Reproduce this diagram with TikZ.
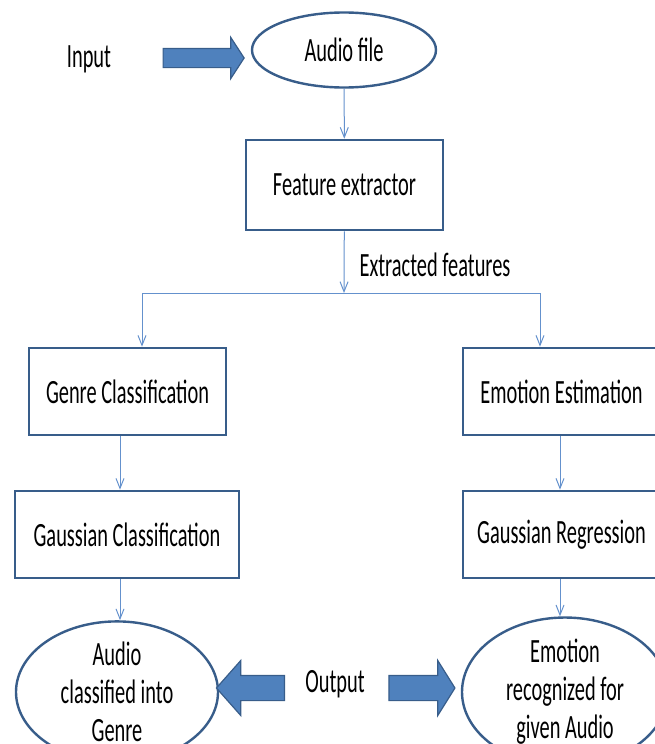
\documentclass[tikz,border=0pt]{standalone}
\usepackage{fontspec}
\setmainfont{Carlito}[FakeStretch=0.6]
\usetikzlibrary{shapes.geometric,shapes.arrows,arrows.meta}
\definecolor{boxBlue}{RGB}{56,93,138}
\definecolor{lineBlue}{RGB}{100,145,205}
\definecolor{fillBlue}{RGB}{79,129,189}
\begin{document}
\begin{tikzpicture}[x=1pt,y=-1pt]
\fontsize{34}{38}\selectfont
  \tikzstyle{stageBox}=[draw=boxBlue,line width=2.6pt,fill=white,minimum height=87pt,inner sep=0pt, text centered]
  \tikzstyle{ioEllipse}=[ellipse,draw=boxBlue,line width=2.4pt,fill=white,inner sep=0pt,align=center]
  \tikzstyle{flow}=[draw=lineBlue,line width=1pt,-{Straight Barb[length=10pt,width=8pt]}]
  \tikzstyle{bigArrow}=[single arrow,draw=boxBlue,line width=1.2pt,fill=fillBlue,inner sep=0pt,single arrow head indent=0pt]
  \tikzstyle{plainText}=[inner sep=0pt]

  \useasboundingbox (0,0) rectangle (655,744);
  \clip (0,0) rectangle (655,744);

  \begin{scope}
   % input side
   \node[plainText](input) at (89,59) {Input};
   \node[bigArrow,inner ysep=9pt,single arrow head extend=11pt,single arrow tip angle=114,minimum height=81pt](inArrow) at (200.5,58) {};
   \node[ioEllipse,minimum width=184pt,minimum height=75pt](audio) at (344,50) {Audio file};

   \node[stageBox,minimum width=197pt,minimum height=90pt](extractor) at (344.5,185) {Feature extractor};
   \draw[flow] (audio) -- (extractor);

   \coordinate (split) at (344,293);
   \draw[flow] (extractor) -- (split);
   \node[plainText](features) at (435,265) {Extracted features};

   % genre branch
   \node[stageBox,minimum width=197pt](genre) at (127.5,391.5) {Genre Classification};
   \draw[flow] (split) -| ([xshift=14.5pt]genre.north);
   \node[stageBox,minimum width=224pt](gaussClass) at (127,534.5) {Gaussian Classification};
   \draw[flow] ([xshift=-7.5pt]genre.south) -- ([xshift=-7pt]gaussClass.north);
   \node[ioEllipse,minimum width=202pt,minimum height=116pt](genreOut) at (117,692) {Audio\\classified into\\Genre};
   \draw[flow] ([xshift=-7pt]gaussClass.south) -- ([xshift=-7pt]gaussClass.south |- genreOut.north);

   % emotion branch
   \node[stageBox,minimum width=197pt](emotion) at (561.5,391.5) {Emotion Estimation};
   \draw[flow] (split) -| ([xshift=-21.5pt]emotion.north);
   \node[stageBox,minimum width=197pt](gaussReg) at (561.5,534.5) {Gaussian Regression};
   \draw[flow] ([xshift=-1.5pt]emotion.south) -- ([xshift=-1.5pt]gaussReg.north);
   \node[ioEllipse,minimum width=206pt,minimum height=116pt](emotionOut) at (565,692) {Emotion\\recognized for\\given Audio};
   \draw[flow] ([xshift=-1.5pt]gaussReg.south) -- ([xshift=-1.5pt]gaussReg.south |- emotionOut.north);

   % output side
   \node[plainText](output) at (335,684) {Output};
   \node[bigArrow,shape border rotate=180,inner ysep=12pt,single arrow head extend=15pt,single arrow tip angle=97,minimum height=68pt](leftOut) at (256,688) {};
   \node[bigArrow,inner ysep=12pt,single arrow head extend=15pt,single arrow tip angle=116,minimum height=66pt](rightOut) at (418,688) {};
  \end{scope}

\end{tikzpicture}
\end{document}
